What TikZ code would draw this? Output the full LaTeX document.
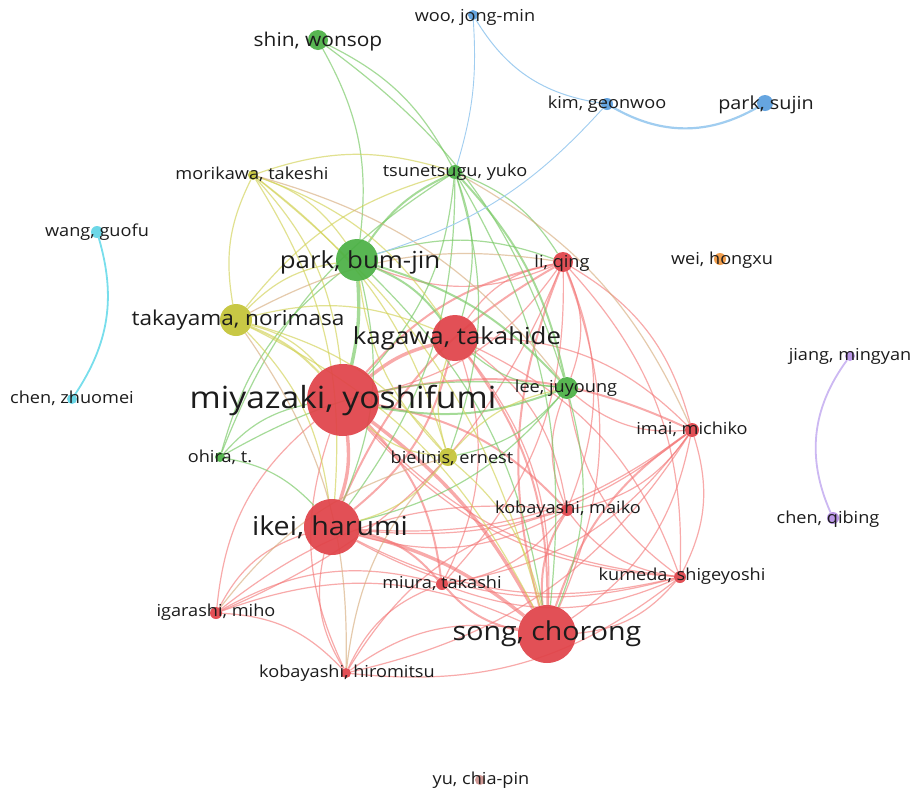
\documentclass[tikz,border=0pt]{standalone}
\usepackage{fontspec}
\setmainfont{Open Sans}[FakeStretch=1.1]
\pgfdeclarelayer{bg}
\pgfdeclarelayer{edges}
\pgfsetlayers{bg,edges,main}
\definecolor{nRed}{RGB}{224,66,72}
\definecolor{nGreen}{RGB}{74,176,68}
\definecolor{nYellow}{RGB}{196,196,54}
\definecolor{nBlue}{RGB}{90,158,222}
\definecolor{nCyan}{RGB}{96,212,230}
\definecolor{nOrange}{RGB}{240,150,62}
\definecolor{nPurple}{RGB}{182,144,230}
\definecolor{nBrown}{RGB}{206,146,142}
\definecolor{eRed}{RGB}{244,118,118}
\definecolor{eGreen}{RGB}{118,200,98}
\definecolor{eYellow}{RGB}{210,210,86}
\definecolor{eTan}{RGB}{212,168,118}
\definecolor{eBlue}{RGB}{160,205,240}
\definecolor{eCyan}{RGB}{120,222,236}
\definecolor{ePurple}{RGB}{204,184,242}
\definecolor{txt}{RGB}{28,28,28}
\begin{document}
\begin{tikzpicture}[x=1pt,y=-1pt,
  dot/.style={circle,inner sep=0pt,draw=none,fill opacity=0.92},
  lbl/.style={text=txt,inner sep=0pt,font=\fontsize{16.5}{16.5}\selectfont},
  re/.style={draw=eRed,opacity=0.62},
  ge/.style={draw=eGreen,opacity=0.65},
  ye/.style={draw=eYellow,opacity=0.65},
  te/.style={draw=eTan,opacity=0.6},
  w1/.style={line width=1.2pt},
  w2/.style={line width=2pt},
  w3/.style={line width=3.4pt}]
\begin{pgfonlayer}{bg}
\fill[white] (0,0) rectangle (913,793);
\end{pgfonlayer}
\useasboundingbox (0,0) rectangle (913,793);
% ---- nodes (circles)
\node[dot,fill=nRed,minimum size=72] (mz) at (343,400) {};
\node[dot,fill=nRed,minimum size=46] (kg) at (455,338) {};
\node[dot,fill=nRed,minimum size=56] (ik) at (332,527) {};
\node[dot,fill=nRed,minimum size=58] (sg) at (547,634) {};
\node[dot,fill=nGreen,minimum size=42] (pb) at (357,260) {};
\node[dot,fill=nYellow,minimum size=32] (tk) at (236,320) {};
\node[dot,fill=nRed,minimum size=20] (li) at (563,262) {};
\node[dot,fill=nGreen,minimum size=22] (le) at (567,388) {};
\node[dot,fill=nGreen,minimum size=20] (sh) at (318,40) {};
\node[dot,fill=nGreen,minimum size=14] (ts) at (455,172) {};
\node[dot,fill=nYellow,minimum size=10] (mo) at (253,175) {};
\node[dot,fill=nYellow,minimum size=18] (bi) at (448,457) {};
\node[dot,fill=nGreen,minimum size=10] (oh) at (220,457) {};
\node[dot,fill=nRed,minimum size=14] (im) at (692,430) {};
\node[dot,fill=nRed,minimum size=12] (km) at (567,510) {};
\node[dot,fill=nRed,minimum size=12] (ku) at (680,577) {};
\node[dot,fill=nRed,minimum size=12] (mi) at (442,584) {};
\node[dot,fill=nRed,minimum size=12] (ig) at (216,613) {};
\node[dot,fill=nRed,minimum size=10] (kh) at (346,673) {};
\node[dot,fill=nBlue,minimum size=10] (wo) at (473,15) {};
\node[dot,fill=nBlue,minimum size=12] (ki) at (607,104) {};
\node[dot,fill=nBlue,minimum size=16] (ps) at (765,103) {};
\node[dot,fill=nCyan,minimum size=12] (wa) at (97,232) {};
\node[dot,fill=nCyan,minimum size=10] (cz) at (72,399) {};
\node[dot,fill=nOrange,minimum size=12] (we) at (720,259) {};
\node[dot,fill=nPurple,minimum size=10] (ji) at (850,356) {};
\node[dot,fill=nPurple,minimum size=12] (cq) at (833,518) {};
\node[dot,fill=nBrown,minimum size=10] (yu) at (480,780) {};
% ---- labels
\node[lbl,font=\fontsize{30.5}{30.5}\selectfont] (mzl) at (343,400) {miyazaki, yoshifumi};
\node[lbl,font=\fontsize{23.5}{23.5}\selectfont] (kgl) at (457,338) {kagawa, takahide};
\node[lbl,font=\fontsize{26}{26}\selectfont] (sgl) at (547,634) {song, chorong};
\node[lbl,font=\fontsize{26}{26}\selectfont] (ikl) at (330,527) {ikei, harumi};
\node[lbl,font=\fontsize{23.5}{23.5}\selectfont] (pbl) at (360,262) {park, bum-jin};
\node[lbl,font=\fontsize{20.5}{20.5}\selectfont] (tkl) at (238,320) {takayama, norimasa};
\node[lbl,font=\fontsize{19}{19}\selectfont] (shl) at (318,42) {shin, wonsop};
\node[lbl] (lil) at (562,263) {li, qing};
\node[lbl] (lel) at (566,388) {lee, juyoung};
\node[lbl] (tsl) at (455,172) {tsunetsugu, yuko};
\node[lbl] (mol) at (252,174) {morikawa, takeshi};
\node[lbl] (bil) at (452,458) {bielinis, ernest};
\node[lbl] (ohl) at (220,457) {ohira, t.};
\node[lbl] (iml) at (692,429) {imai, michiko};
\node[lbl] (kml) at (568,509) {kobayashi, maiko};
\node[lbl] (kul) at (682,576) {kumeda, shigeyoshi};
\node[lbl] (mil) at (442,583) {miura, takashi};
\node[lbl] (igl) at (216,612) {igarashi, miho};
\node[lbl] (khl) at (347,673) {kobayashi, hiromitsu};
\node[lbl] (wol) at (475,17) {woo, jong-min};
\node[lbl] (kil) at (607,104) {kim, geonwoo};
\node[lbl,font=\fontsize{18}{18}\selectfont] (psl) at (766,105) {park, sujin};
\node[lbl] (wal) at (97,232) {wang, guofu};
\node[lbl] (czl) at (72,398) {chen, zhuomei};
\node[lbl] (wel) at (722,260) {wei, hongxu};
\node[lbl] (jil) at (850,356) {jiang, mingyan};
\node[lbl] (cql) at (828,519) {chen, qibing};
\node[lbl] (yul) at (481,780) {yu, chia-pin};
% ---- edges
\begin{pgfonlayer}{edges}
% red thick
\foreach \a/\b in {mz/ik,mz/sg,ik/sg,mz/kg}
  \draw[re,w3] (\a) to[bend left=12] (\b);
% red medium
\foreach \a/\b in {kg/sg,kg/ik,mz/li,sg/li,ik/li,sg/mi,ik/mi,mz/km,sg/km,sg/im,mz/im,mz/mi}
  \draw[re,w2] (\a) to[bend left=18] (\b);
% red thin
\foreach \a/\b in {kg/li,kg/im,kg/km,kg/ku,kg/mi,li/im,li/km,li/ku,li/mi,im/km,im/ku,im/mi,
  ku/km,ku/mi,ku/sg,ku/mz,ku/ik,ig/mz,ig/ik,ig/sg,ig/kh,ig/mi,kh/mz,kh/ik,kh/sg,kh/mi,
  im/ik,km/ik,km/mi,li/pb,li/le,im/le,ku/le,km/le,ig/km,kh/km,li/sg,im/sg,li/ig,im/kh,ku/kh}
  \draw[re,w1] (\a) to[bend left=22] (\b);
\foreach \a/\b in {mz/li,ik/im,sg/kg,mz/ku,ik/ku}
  \draw[re,w1] (\a) to[bend right=20] (\b);
% green
\draw[ge,w3] (pb) to[bend left=8] (mz);
\foreach \a/\b in {pb/kg,pb/ts,ts/le,le/mz,pb/le}
  \draw[ge,w2] (\a) to[bend left=15] (\b);
\foreach \a/\b in {ts/mz,ts/kg,le/sg,le/ik,pb/ik,pb/sg,oh/mz,oh/pb,oh/ts,oh/ik,oh/le,
  sh/pb,sh/ts,sh/le,ts/li,ts/sg,ts/ik,ts/bi,le/kg,le/bi,pb/li}
  \draw[ge,w1] (\a) to[bend left=18] (\b);
% yellow
\foreach \a/\b in {tk/mo,tk/mz,tk/pb,tk/ik,tk/kg,tk/sg,tk/bi,tk/ts,mo/pb,mo/mz,mo/ik,
  mo/kg,mo/ts,mo/sg,mo/bi,bi/mz,bi/pb,bi/ik,bi/sg,bi/kg,bi/le}
  \draw[ye,w1] (\a) to[bend left=18] (\b);
\draw[ye,w2] (tk) to[bend left=12] (mz);
% tan mixed
\foreach \a/\b in {ig/bi,tk/li,ts/im,mo/le,kh/bi,tk/kh}
  \draw[te,w1] (\a) to[bend left=18] (\b);
% other clusters
\draw[draw=eBlue,line width=1pt] (wo) to[bend right=25] (ki);
\draw[draw=eBlue,line width=2.2pt] (ki) to[bend right=30] (ps);
\draw[draw=eBlue,line width=0.9pt] (wo) to[bend left=10] (ts);
\draw[draw=eBlue,line width=0.9pt] (ki) to[bend left=15] (pb);
\draw[draw=eCyan,line width=1.8pt] (wa) to[bend left=25] (cz);
\draw[draw=ePurple,line width=1.8pt] (ji) to[bend right=30] (cq);
\end{pgfonlayer}
\end{tikzpicture}
\end{document}
